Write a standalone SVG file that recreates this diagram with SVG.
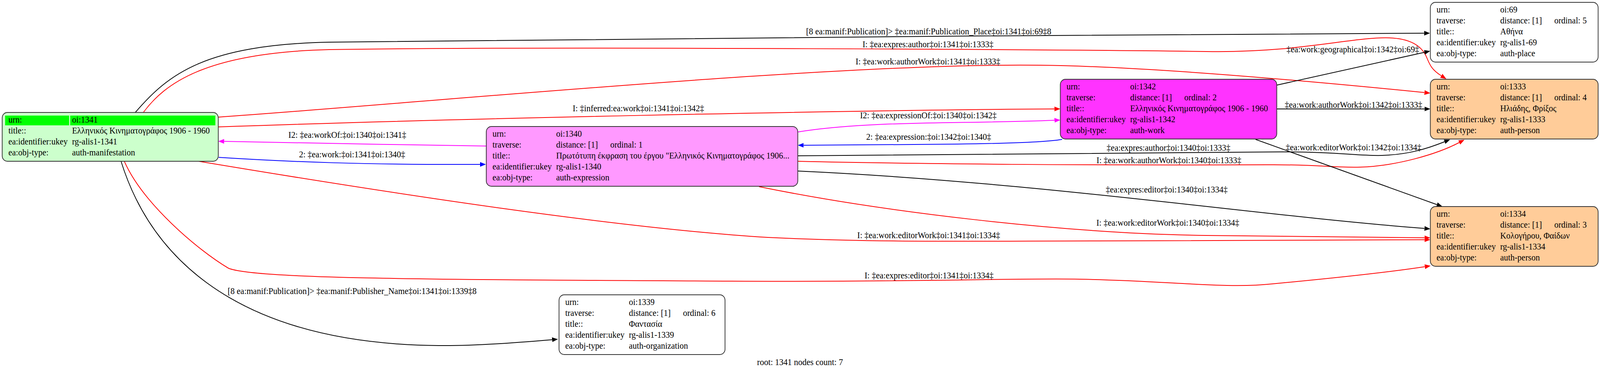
<svg xmlns="http://www.w3.org/2000/svg" width="4376" height="945" viewBox="0 0 4376 945">
<style>
text { font-family: "Liberation Serif", "Times New Roman", serif; font-size: 23px; fill: #000; }
.lbl { text-anchor: middle; }
.box { stroke: #333; stroke-width: 2; }
.e { fill: none; stroke-width: 2; }
.k { stroke: #000; }
.r { stroke: #ff0000; }
.b { stroke: #0000ff; }
.m { stroke: #ff00ff; }
</style>
<defs>
<marker id="ak" viewBox="0 0 16 12" markerWidth="16" markerHeight="12" refX="0" refY="6" orient="auto" markerUnits="userSpaceOnUse"><path d="M0,0 L16,6 L0,12 z" fill="#000"/></marker>
<marker id="ar" viewBox="0 0 16 12" markerWidth="16" markerHeight="12" refX="0" refY="6" orient="auto" markerUnits="userSpaceOnUse"><path d="M0,0 L16,6 L0,12 z" fill="#ff0000"/></marker>
<marker id="ab" viewBox="0 0 16 12" markerWidth="16" markerHeight="12" refX="0" refY="6" orient="auto" markerUnits="userSpaceOnUse"><path d="M0,0 L16,6 L0,12 z" fill="#0000ff"/></marker>
<marker id="am" viewBox="0 0 16 12" markerWidth="16" markerHeight="12" refX="0" refY="6" orient="auto" markerUnits="userSpaceOnUse"><path d="M0,0 L16,6 L0,12 z" fill="#ff00ff"/></marker>
</defs>
<rect width="4376" height="945" fill="#fff"/>
<g id="graph" transform="scale(0.936,1)">

<g id="connectors">
<path class="e k" marker-end="url(#ak)" d="M370,288 C460,190 560,115 900,108 C1500,101 3000,88 3895,85"/>
<path class="e r" marker-end="url(#ar)" d="M392,288 C450,215 560,135 900,127 C1500,118 3000,128 3300,132 C3550,136 3700,94 3800,97 C3860,99 3890,120 3902,147 C3910,165 3915,178 3942,194"/>
<path class="e r" marker-end="url(#ar)" d="M597,300 C1200,260 2300,160 2846,167 C3100,170 3500,200 3896,237"/>
<path class="e r" marker-end="url(#ar)" d="M597,325 C1200,305 2300,282 2884,279"/>
<path class="e m" marker-end="url(#am)" d="M2182,338 C2300,320 2450,316 2600,314 C2750,312 2830,310 2884,308"/>
<path class="e m" marker-end="url(#am)" d="M1330,374 C1100,372 800,364 613,362"/>
<path class="e b" marker-end="url(#ab)" d="M598,403 C800,415 1000,422 1313,421"/>
<path class="e b" marker-end="url(#ab)" d="M2905,357 C2850,366 2700,369 2500,370 C2350,371 2250,372 2198,372"/>
<path class="e k" marker-end="url(#ak)" d="M2182,399 C2500,394 3000,392 3500,389 C3650,388 3720,400 3780,398 C3850,396 3900,382 3951,363"/>
<path class="e r" marker-end="url(#ar)" d="M2182,413 C2500,420 3000,424 3468,422 C3600,421 3650,430 3720,428 C3820,425 3930,395 3991,365"/>
<path class="e k" marker-end="url(#ak)" d="M3492,218 L3896,134"/>
<path class="e k" marker-end="url(#ak)" d="M3492,279 L3896,279"/>
<path class="e k" marker-end="url(#ak)" d="M3434,357 L3930,524"/>
<path class="e k" marker-end="url(#ak)" d="M2182,438 C2700,460 3200,520 3607,560 C3700,569 3800,578 3896,585"/>
<path class="e r" marker-end="url(#ar)" d="M2076,478 C2400,540 2900,598 3300,603 C3600,607 3800,609 3896,609"/>
<path class="e r" marker-end="url(#ar)" d="M543,413 C1100,500 1700,585 2100,608 C2400,622 2700,617 3000,617 L3896,614"/>
<path class="e r" marker-end="url(#ar)" d="M340,413 C390,520 540,640 625,687 C700,715 1200,716 2000,720 C2500,723 2750,712 2953,715 C3200,719 3350,740 3480,727 C3650,712 3800,697 3897,683"/>
<path class="e k" marker-end="url(#ak)" d="M331,413 C400,620 600,880 1200,885 C1300,886 1420,877 1510,870"/>

<text class="lbl" x="2540" y="88">[8 ea:manif:Publication]&gt; ‡ea:manif:Publication_Place‡oi:1341‡oi:69‡8</text>
<text class="lbl" x="2538" y="121">I: ‡ea:expres:author‡oi:1341‡oi:1333‡</text>
<text class="lbl" x="2538" y="165">I: ‡ea:work:authorWork‡oi:1341‡oi:1333‡</text>
<text class="lbl" x="1746" y="285">I: ‡inferred:ea:work‡oi:1341‡oi:1342‡</text>
<text class="lbl" x="2539" y="303">I2: ‡ea:expressionOf:‡oi:1340‡oi:1342‡</text>
<text class="lbl" x="950" y="353">I2: ‡ea:workOf:‡oi:1340‡oi:1341‡</text>
<text class="lbl" x="963" y="403">2: ‡ea:work:‡oi:1341‡oi:1340‡</text>
<text class="lbl" x="2540" y="358">2: ‡ea:expression:‡oi:1342‡oi:1340‡</text>
<text class="lbl" x="3196" y="386">‡ea:expres:author‡oi:1340‡oi:1333‡</text>
<text class="lbl" x="3197" y="418">I: ‡ea:work:authorWork‡oi:1340‡oi:1333‡</text>
<text class="lbl" x="3700" y="134">‡ea:work:geographical‡oi:1342‡oi:69‡</text>
<text class="lbl" x="3702" y="276">‡ea:work:authorWork‡oi:1342‡oi:1333‡</text>
<text class="lbl" x="3702" y="385">‡ea:work:editorWork‡oi:1342‡oi:1334‡</text>
<text class="lbl" x="3191" y="493">‡ea:expres:editor‡oi:1340‡oi:1334‡</text>
<text class="lbl" x="3194" y="578">I: ‡ea:work:editorWork‡oi:1340‡oi:1334‡</text>
<text class="lbl" x="2540" y="610">I: ‡ea:work:editorWork‡oi:1341‡oi:1334‡</text>
<text class="lbl" x="2541" y="713">I: ‡ea:expres:editor‡oi:1341‡oi:1334‡</text>
<text class="lbl" x="963" y="753">[8 ea:manif:Publication]&gt; ‡ea:manif:Publisher_Name‡oi:1341‡oi:1339‡8</text>
</g>

<g id="node-1341">
<rect class="box" x="6" y="288" width="591" height="125" rx="14" fill="#ccffcc"/>
<rect x="14" y="296" width="175" height="25" fill="#00ff00"/>
<rect x="192" y="296" width="397" height="25" fill="#00ff00"/>
<text x="23" y="314">urn:</text><text x="197" y="314">oi:1341</text>
<text x="23" y="342">title::</text><text x="197" y="342">Ελληνικός Κινηματογράφος 1906 - 1960</text>
<text x="23" y="370">ea:identifier:ukey</text><text x="197" y="370">rg-alis1-1341</text>
<text x="23" y="398">ea:obj-type:</text><text x="197" y="398">auth-manifestation</text>
</g>

<g id="node-1340">
<rect class="box" x="1330" y="324" width="852" height="153" rx="14" fill="#ff99ff"/>
<text x="1347" y="350">urn:</text><text x="1521" y="350">oi:1340</text>
<text x="1347" y="378">traverse:</text><text x="1521" y="378">distance: [1]</text><text x="1669" y="378">ordinal: 1</text>
<text x="1347" y="406">title::</text><text x="1521" y="406">Πρωτότυπη έκφραση του έργου "Ελληνικός Κινηματογράφος 1906...</text>
<text x="1347" y="434">ea:identifier:ukey</text><text x="1521" y="434">rg-alis1-1340</text>
<text x="1347" y="462">ea:obj-type:</text><text x="1521" y="462">auth-expression</text>
</g>

<g id="node-1342">
<rect class="box" x="2900" y="203" width="592" height="153" rx="14" fill="#ff33ff"/>
<text x="2917" y="229">urn:</text><text x="3091" y="229">oi:1342</text>
<text x="2917" y="257">traverse:</text><text x="3091" y="257">distance: [1]</text><text x="3239" y="257">ordinal: 2</text>
<text x="2917" y="285">title::</text><text x="3091" y="285">Ελληνικός Κινηματογράφος 1906 - 1960</text>
<text x="2917" y="313">ea:identifier:ukey</text><text x="3091" y="313">rg-alis1-1342</text>
<text x="2917" y="341">ea:obj-type:</text><text x="3091" y="341">auth-work</text>
</g>

<g id="node-69">
<rect class="box" x="3912" y="6" width="459" height="153" rx="14" fill="#ffffff"/>
<text x="3929" y="32">urn:</text><text x="4103" y="32">oi:69</text>
<text x="3929" y="60">traverse:</text><text x="4103" y="60">distance: [1]</text><text x="4251" y="60">ordinal: 5</text>
<text x="3929" y="88">title::</text><text x="4103" y="88">Αθήνα</text>
<text x="3929" y="116">ea:identifier:ukey</text><text x="4103" y="116">rg-alis1-69</text>
<text x="3929" y="144">ea:obj-type:</text><text x="4103" y="144">auth-place</text>
</g>

<g id="node-1333">
<rect class="box" x="3912" y="203" width="459" height="153" rx="14" fill="#ffcc99"/>
<text x="3929" y="229">urn:</text><text x="4103" y="229">oi:1333</text>
<text x="3929" y="257">traverse:</text><text x="4103" y="257">distance: [1]</text><text x="4251" y="257">ordinal: 4</text>
<text x="3929" y="285">title::</text><text x="4103" y="285">Ηλιάδης, Φρίξος</text>
<text x="3929" y="313">ea:identifier:ukey</text><text x="4103" y="313">rg-alis1-1333</text>
<text x="3929" y="341">ea:obj-type:</text><text x="4103" y="341">auth-person</text>
</g>

<g id="node-1334">
<rect class="box" x="3912" y="529" width="459" height="153" rx="14" fill="#ffcc99"/>
<text x="3929" y="555">urn:</text><text x="4103" y="555">oi:1334</text>
<text x="3929" y="583">traverse:</text><text x="4103" y="583">distance: [1]</text><text x="4251" y="583">ordinal: 3</text>
<text x="3929" y="611">title::</text><text x="4103" y="611">Κολογήρου, Φαίδων</text>
<text x="3929" y="639">ea:identifier:ukey</text><text x="4103" y="639">rg-alis1-1334</text>
<text x="3929" y="667">ea:obj-type:</text><text x="4103" y="667">auth-person</text>
</g>

<g id="node-1339">
<rect class="box" x="1529" y="755" width="454" height="153" rx="14" fill="#ffffff"/>
<text x="1546" y="781">urn:</text><text x="1720" y="781">oi:1339</text>
<text x="1546" y="809">traverse:</text><text x="1720" y="809">distance: [1]</text><text x="1868" y="809">ordinal: 6</text>
<text x="1546" y="837">title::</text><text x="1720" y="837">Φαντασία</text>
<text x="1546" y="865">ea:identifier:ukey</text><text x="1720" y="865">rg-alis1-1339</text>
<text x="1546" y="893">ea:obj-type:</text><text x="1720" y="893">auth-organization</text>
</g>

<text class="lbl" x="2188" y="935">root: 1341 nodes count: 7</text>
</g>
</svg>
